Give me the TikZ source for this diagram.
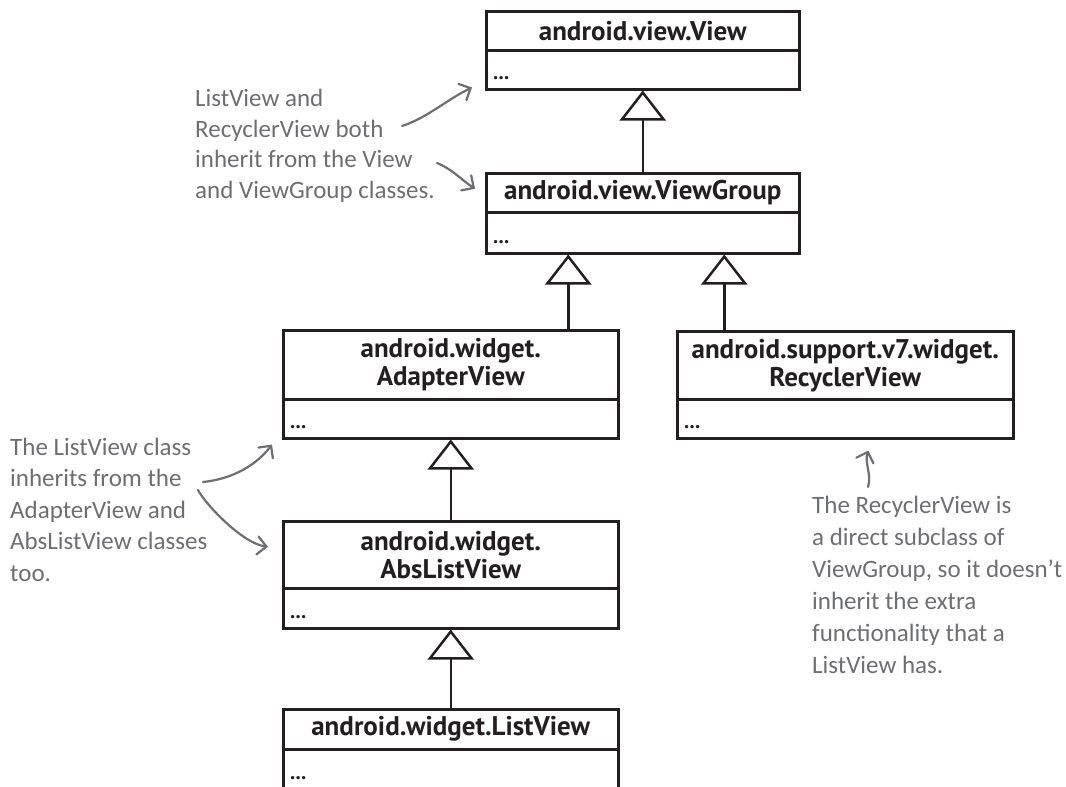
\documentclass[tikz,border=0pt]{standalone}
\usepackage{fontspec}
\setmainfont{PT Sans}
\newfontfamily\handfont{Carlito}
\usetikzlibrary{arrows.meta,calc}
\definecolor{ink}{HTML}{231F20}
\definecolor{notegray}{HTML}{6D6E71}
\begin{document}
\begin{tikzpicture}[x=1pt,y=-1pt,
  box/.style={draw=ink, line width=2.5pt, anchor=north west, inner sep=0pt,
    minimum width=#1, text=ink, align=center,
    font=\fontsize{27}{28}\selectfont\bfseries},
  dots/.style={anchor=base west, inner sep=0pt, text=ink,
    font=\fontsize{21}{21}\selectfont\bfseries},
  notetext/.style={anchor=base west, inner sep=0pt, text=notegray, align=left,
    font=\handfont\fontsize{25}{#1}\selectfont},
  inh/.style={draw=ink, line width=2.5pt,
    -{Triangle[open, length=30pt, width=46pt]}},
  notearrow/.style={draw=notegray, line width=2.2pt, line cap=round,
    -{Straight Barb[length=9pt, width=18pt, line cap=round]}}]
\useasboundingbox (0,0) rectangle (1066,787);

% class boxes
\node[box=313pt, minimum height=39pt] (viewT) at (485,10) {android.view.View};
\node[box=313pt, minimum height=39pt] (viewB) at (485,49) {};
\node[dots] (viewD) at ($(viewB.south west)+(8,-11)$) {...};

\node[box=313pt, minimum height=39pt] (vgT) at (485,172) {android.view.ViewGroup};
\node[box=313pt, minimum height=41pt] (vgB) at (485,211) {};
\node[dots] (vgD) at ($(vgB.south west)+(8,-11)$) {...};

\node[box=335pt, minimum height=69pt] (adT) at (282,329) {android.widget.\\AdapterView};
\node[box=335pt, minimum height=39pt] (adB) at (282,398) {};
\node[dots] (adD) at ($(adB.south west)+(8,-11)$) {...};

\node[box=336pt, minimum height=68pt] (rcT) at (676,330) {android.support.v7.widget.\\RecyclerView};
\node[box=336pt, minimum height=39pt] (rcB) at (676,398) {};
\node[dots] (rcD) at ($(rcB.south west)+(8,-11)$) {...};

\node[box=335pt, minimum height=67pt] (abT) at (282,520) {android.widget.\\AbsListView};
\node[box=335pt, minimum height=40pt] (abB) at (282,587) {};
\node[dots] (abD) at ($(abB.south west)+(8,-11)$) {...};

\node[box=335pt, minimum height=40pt] (lvT) at (282,708) {android.widget.ListView};
\node[box=335pt, minimum height=40pt] (lvB) at (282,748) {};
\node[dots] (lvD) at ($(lvB.south west)+(8,-11)$) {...};

% inheritance connectors
\coordinate (xad) at ($(vgB.south)+(-74.5,0)$);
\coordinate (xrc) at ($(vgB.south)+(81.5,0)$);
\draw[inh] (vgT.north) -- (viewB.south);
\draw[inh] (xad |- adT.north) -- (xad);
\draw[inh] (xrc |- rcT.north) -- (xrc);
\draw[inh] (abT.north) -- (adB.south);
\draw[inh] (lvT.north) -- (abB.south);

% annotations (base anchor = baseline of last line)
\node[notetext=30.5pt] (n1) at (195,198)
  {ListView and\\RecyclerView both\\inherit from the View\\and ViewGroup classes.};
\node[notetext=31.5pt] (n2) at (10,581)
  {The ListView class\\inherits from the\\AdapterView and\\AbsListView classes\\too.};
\node[notetext=32pt] (n3) at (812,673)
  {The RecyclerView is\\a direct subclass of\\ViewGroup, so it doesn’t\\inherit the extra\\functionality that a\\ListView has.};

\coordinate (a1s) at (402,126);
\coordinate (a2s) at (437,163);
\coordinate (a3s) at (203,482);
\coordinate (a4s) at (198,490);
\coordinate (a5s) at (868,487);

\draw[notearrow] (a1s) .. controls +(25,-8) and +(-25,12) .. ([xshift=-13pt,yshift=3pt]viewB.south west);
\draw[notearrow] (a2s) .. controls +(15,6) and +(-15,-10) .. ([xshift=-10pt,yshift=4pt]vgT.west);
\draw[notearrow] (a3s) .. controls +(30,-3) and +(-15,20) .. ([xshift=-10pt,yshift=-5pt]adB.south west);
\draw[notearrow] (a4s) .. controls +(8,15) and +(-25,-3) .. ([xshift=-14pt,yshift=8pt]abT.west);
\draw[notearrow] (a5s) .. controls +(4,-12) and +(-4,12) .. ([xshift=23pt,yshift=-11pt]rcB.south);
\end{tikzpicture}
\end{document}
